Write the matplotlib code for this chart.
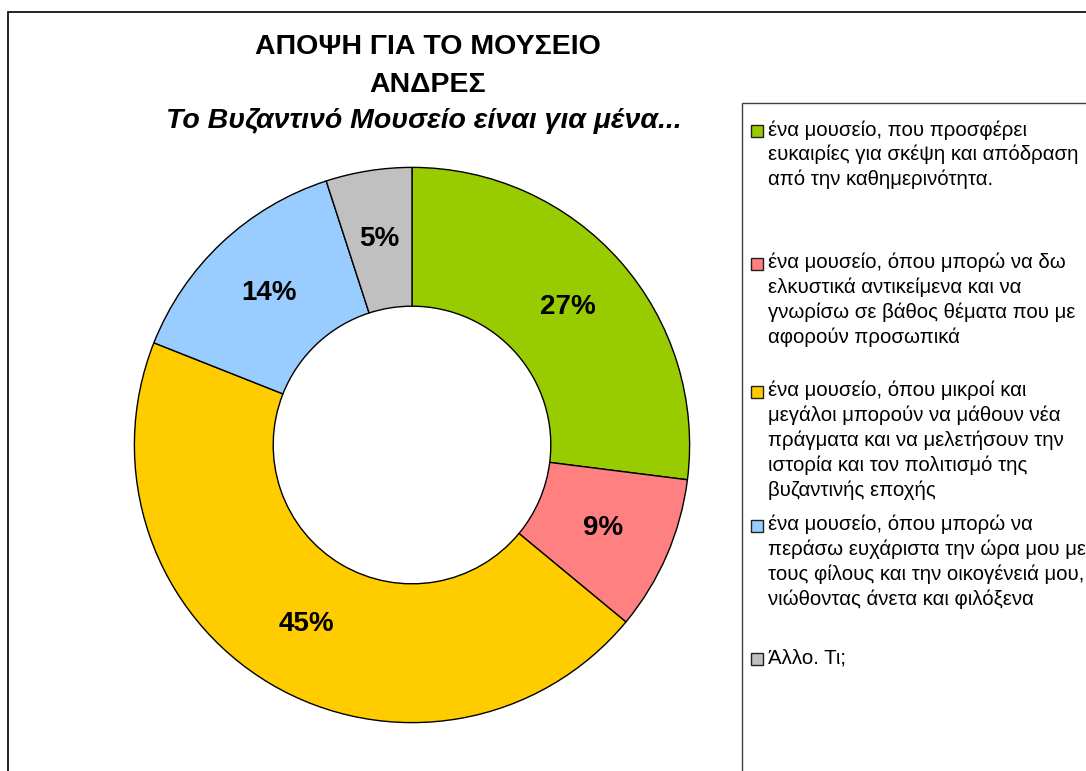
import matplotlib.pyplot as plt
from matplotlib.patches import Rectangle

plt.rcParams['font.family'] = ['Liberation Sans', 'DejaVu Sans']

titlos = 'ΑΠΟΨΗ ΓΙΑ ΤΟ ΜΟΥΣΕΙΟ\nΑΝΔΡΕΣ'
ypotitlos = 'Το Βυζαντινό Μουσείο είναι για μένα...'

katigories = [
    'ένα μουσείο, που προσφέρει\nευκαιρίες για σκέψη και απόδραση\nαπό την καθημερινότητα.',
    'ένα μουσείο, όπου μπορώ να δω\nελκυστικά αντικείμενα και να\nγνωρίσω σε βάθος θέματα που με\nαφορούν προσωπικά',
    'ένα μουσείο, όπου μικροί και\nμεγάλοι μπορούν να μάθουν νέα\nπράγματα και να μελετήσουν την\nιστορία και τον πολιτισμό της\nβυζαντινής εποχής',
    'ένα μουσείο, όπου μπορώ να\nπεράσω ευχάριστα την ώρα μου με\nτους φίλους και την οικογένειά μου,\nνιώθοντας άνετα και φιλόξενα',
    'Άλλο. Τι;',
]
pososta = [27, 9, 45, 14, 5]
xromata = ['#99CC00', '#FF8080', '#FFCC00', '#99CCFF', '#C0C0C0']

W, H = 1086, 771
fig = plt.figure(figsize=(W / 100, H / 100), dpi=100)

# plaisio grafimatos
fig.patches.append(Rectangle((8 / W, -0.1), 1.2, 1 - 12 / H + 0.1, transform=fig.transFigure,
                             fill=False, edgecolor='black', linewidth=1.2))

# donut
cx, cy, r = 412, 445, 279
ax = fig.add_axes([(cx - r) / W, (H - cy - r) / H, 2 * r / W, 2 * r / H])
wedges, _, autotexts = ax.pie(pososta, colors=xromata, startangle=90, counterclock=False,
                              radius=1, autopct='%1.0f%%', pctdistance=0.75,
                              wedgeprops=dict(width=0.5, edgecolor='black', linewidth=1))
for t in autotexts:
    t.set_fontsize(20)
    t.set_fontweight('bold')
ax.set_xlim(-1.005, 1.005)
ax.set_ylim(-1.005, 1.005)
ax.set_aspect('equal')
ax.axis('off')

# titloi
fig.text(428 / W, 1 - 66 / H, titlos, ha='center', va='center', fontsize=20.5,
         fontweight='bold', linespacing=1.55)
fig.text(424 / W, 1 - 121 / H, ypotitlos, ha='center', va='center', fontsize=20.5,
         fontweight='bold', style='italic')

# ypomnima
fig.patches.append(Rectangle((742 / W, -0.1), 1.0, 1 - 103 / H + 0.1, transform=fig.transFigure,
                             fill=False, edgecolor='#404040', linewidth=1))
y_theseis = [131, 264, 392, 526, 659]
for lab, col, yp in zip(katigories, xromata, y_theseis):
    fig.patches.append(Rectangle((751 / W, 1 - (yp + 6) / H), 12 / W, 12 / H,
                                 transform=fig.transFigure, facecolor=col,
                                 edgecolor='#202020', linewidth=1))
    fig.text(768 / W, 1 - (yp - 11) / H, lab, ha='left', va='top', fontsize=14.7,
             linespacing=1.35)

fig.savefig('out.png', dpi=100)
